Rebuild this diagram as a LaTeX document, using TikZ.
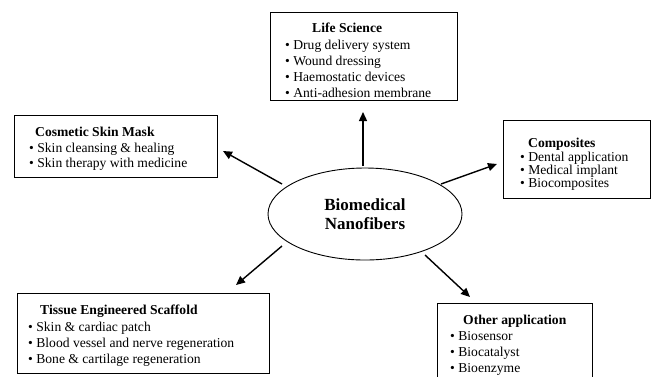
\documentclass[tikz,border=0pt]{standalone}
\usepackage{fontspec}
\setmainfont{Liberation Serif}
\usetikzlibrary{arrows.meta,shapes.geometric}
\begin{document}
\begin{tikzpicture}[x=1pt,y=-1pt,
  box/.style={draw=black,line width=1pt,rectangle,inner sep=0pt},
  ttl/.style={anchor=base west,inner sep=0pt,yshift=-4.5pt,font=\fontsize{13.6}{15}\selectfont\bfseries},
  itm/.style={anchor=base west,inner sep=0pt,yshift=-4.5pt,font=\fontsize{13.6}{15}\selectfont},
  arr/.style={line width=1.4pt,-{Triangle[length=9pt,width=8pt]}}]
\useasboundingbox (0,0) rectangle (652,376);
% central ellipse
\node[draw,ellipse,line width=0.9pt,minimum width=194pt,minimum height=92pt,
  align=center,font=\fontsize{17}{19}\selectfont\bfseries] (bn) at (365,214)
  {Biomedical\\Nanofibers};
% boxes
\draw[box] (270,12) rectangle (457,100) node[pos=0.5,inner sep=0pt] (ls) {};
\node[ttl] (ls0) at (312,28) {Life Science};
\node[itm] (ls1) at (285,45) {\textbullet\ Drug delivery system};
\node[itm] (ls2) at (285,61) {\textbullet\ Wound dressing};
\node[itm] (ls3) at (285,77) {\textbullet\ Haemostatic devices};
\node[itm] (ls4) at (285,93) {\textbullet\ Anti-adhesion membrane};

\draw[box] (14,115) rectangle (217,177) node[pos=0.5,inner sep=0pt] (cs) {};
\node[ttl] (cs0) at (35,132) {Cosmetic Skin Mask};
\node[itm] (cs1) at (29,148) {\textbullet\ Skin cleansing \& healing};
\node[itm] (cs2) at (29,163) {\textbullet\ Skin therapy with medicine};

\draw[box] (503,120) rectangle (650,198) node[pos=0.5,inner sep=0pt] (cp) {};
\node[ttl] (cp0) at (528,143) {Composites};
\node[itm] (cp1) at (520,157) {\textbullet\ Dental application};
\node[itm] (cp2) at (520,170) {\textbullet\ Medical implant};
\node[itm] (cp3) at (520,183) {\textbullet\ Biocomposites};

\draw[box] (17,293) rectangle (269,373) node[pos=0.5,inner sep=0pt] (ts) {};
\node[ttl] (ts0) at (40,310) {Tissue Engineered Scaffold};
\node[itm] (ts1) at (28,327) {\textbullet\ Skin \& cardiac patch};
\node[itm] (ts2) at (28,343) {\textbullet\ Blood vessel and nerve regeneration};
\node[itm] (ts3) at (28,359) {\textbullet\ Bone \& cartilage regeneration};

\draw[box] (437,384) -- (437,303) -- (592,303) -- (592,384);
\node[ttl] (oa0) at (463,320) {Other application};
\node[itm] (oa1) at (450,336) {\textbullet\ Biosensor};
\node[itm] (oa2) at (450,352) {\textbullet\ Biocatalyst};
\node[itm] (oa3) at (450,368) {\textbullet\ Bioenzyme};

% arrow end points
\coordinate (a1s) at (363,166); \coordinate (a1e) at (363,112);
\coordinate (a2s) at (282,184); \coordinate (a2e) at (223,151);
\coordinate (a3s) at (441,184); \coordinate (a3e) at (497,164);
\coordinate (a4s) at (282,246); \coordinate (a4e) at (236,285);
\coordinate (a5s) at (425,255); \coordinate (a5e) at (470,297);
\draw[arr] (a1s) -- (a1e);
\draw[arr] (a2s) -- (a2e);
\draw[arr] (a3s) -- (a3e);
\draw[arr] (a4s) -- (a4e);
\draw[arr] (a5s) -- (a5e);
\end{tikzpicture}
\end{document}
